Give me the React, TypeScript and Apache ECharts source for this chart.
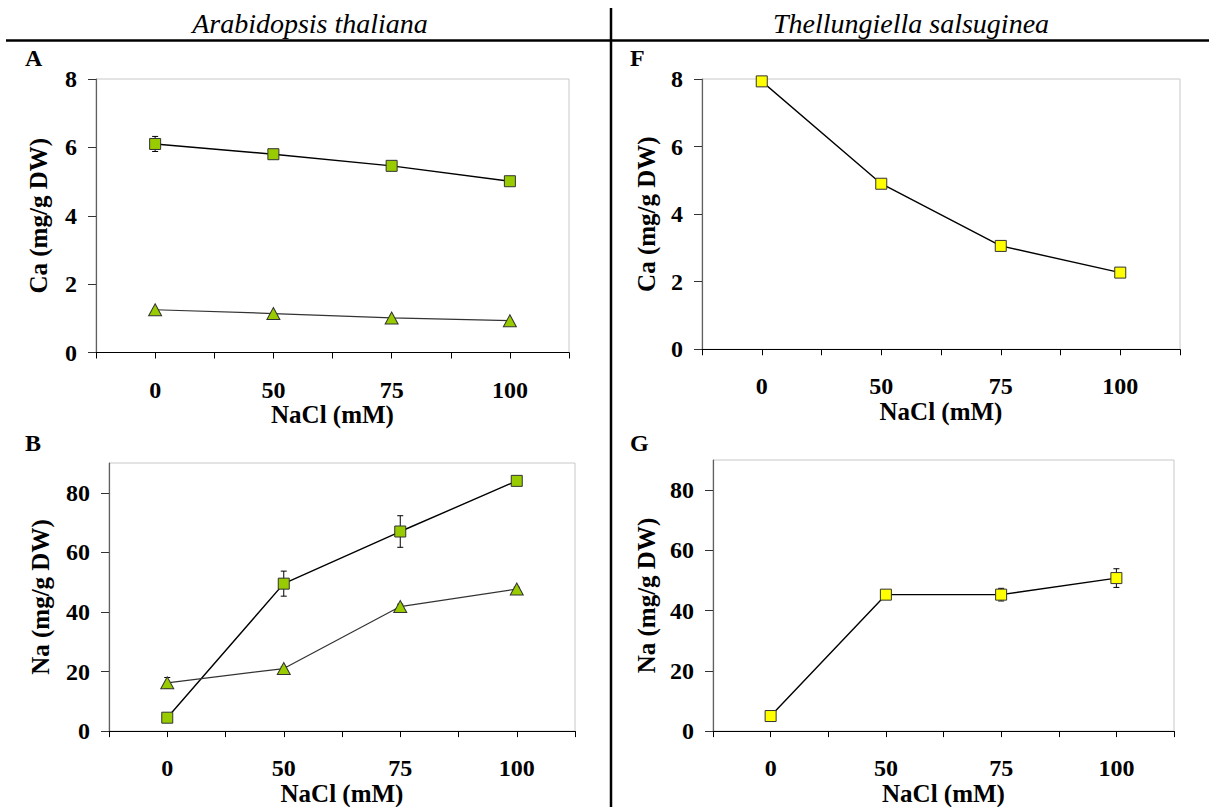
import React, { useEffect, useRef } from "react";
import * as echarts from "echarts";

// ---------- data ----------
const categories = ["0", "50", "75", "100"];
const yTicksCa = [0, 2, 4, 6, 8];
const yTicksNa = [0, 20, 40, 60, 80];

// Arabidopsis thaliana – Ca
const caArabSquare = [6.1, 5.8, 5.46, 5.01];
const caArabSquareErr = [0.22, 0.05, 0.05, 0.05];
const caArabTriangle = [1.25, 1.14, 1.01, 0.93];
// Arabidopsis thaliana – Na
const naArabSquare = [4.5, 49.5, 67, 84];
const naArabSquareErr = [0.6, 4.2, 5.3, 0.8];
const naArabTriangle = [16.2, 21, 41.8, 47.7];
const naArabTriangleErr = [1.8, 0.6, 0.8, 0.6];
// Thellungiella salsuginea – Ca
const caThel = [7.93, 4.9, 3.06, 2.27];
// Thellungiella salsuginea – Na
const naThel = [5, 45.3, 45.3, 50.8];
const naThelErr = [0.6, 0.8, 2.1, 3.1];

const FONT = "Liberation Serif";
const GREEN = "#99CC00";
const YELLOW = "#FFFF00";

function errData(vals: number[], errs: number[]) {
  return vals.map((v, i) => [i, v - errs[i], v + errs[i]]);
}

function errSeries(gridIdx: number, vals: number[], errs: number[]) {
  return {
    type: "custom",
    xAxisIndex: gridIdx * 2,
    yAxisIndex: gridIdx,
    z: 1,
    silent: true,
    encode: { x: 0, y: [1, 2] },
    data: errData(vals, errs),
    renderItem: (params: any, api: any) => {
      const x = api.value(0);
      const lo = api.coord([x, api.value(1)]);
      const hi = api.coord([x, api.value(2)]);
      const w = 3;
      const st = { stroke: "#000", lineWidth: 1 };
      return {
        type: "group",
        children: [
          { type: "line", shape: { x1: lo[0], y1: lo[1], x2: hi[0], y2: hi[1] }, style: st },
          { type: "line", shape: { x1: lo[0] - w, y1: lo[1], x2: lo[0] + w, y2: lo[1] }, style: st },
          { type: "line", shape: { x1: hi[0] - w, y1: hi[1], x2: hi[0] + w, y2: hi[1] }, style: st },
        ],
      };
    },
  };
}

function lineSeries(gridIdx: number, vals: number[], kind: "sq" | "tri", fill: string) {
  return {
    type: "line",
    xAxisIndex: gridIdx * 2,
    yAxisIndex: gridIdx,
    data: vals,
    z: 3,
    symbol: kind === "sq" ? "rect" : "triangle",
    symbolSize: kind === "sq" ? 11 : [13, 12],
    showAllSymbol: true,
    lineStyle: { color: kind === "sq" ? "#000" : "#333", width: kind === "sq" ? 1.4 : 1.2 },
    itemStyle: { color: fill, borderColor: "#333", borderWidth: 1 },
  };
}

export default function App() {
  const ref = useRef<HTMLDivElement>(null);

  useEffect(() => {
    if (!ref.current) return;
    const chart = echarts.init(ref.current, undefined, { renderer: "svg" });

    const grids = [
      { left: 96, top: 79, width: 473, height: 273.5 }, // A
      { left: 702, top: 79, width: 478, height: 270.3 }, // F
      { left: 109, top: 463, width: 466, height: 269 }, // B
      { left: 713, top: 460, width: 461, height: 277.7 }, // G
    ];

    const labelFont = { fontFamily: FONT, fontWeight: "bold", fontSize: 24, color: "#000" };
    const nameFont = { fontFamily: FONT, fontWeight: "bold", fontSize: 25, color: "#000" };

    const xAxes: any[] = [];
    grids.forEach((_, gi) => {
      xAxes.push({
        type: "category",
        gridIndex: gi,
        position: "bottom",
        data: categories,
        boundaryGap: true,
        name: "NaCl (mM)",
        nameLocation: "middle",
        nameGap: 41,
        nameTextStyle: nameFont,
        axisLine: { onZero: false, lineStyle: { color: "#000", width: 1.2 } },
        axisTick: { show: true, alignWithLabel: false, length: 6, lineStyle: { color: "#000", width: 1 } },
        axisLabel: { ...labelFont, margin: 25, interval: 0 },
        splitLine: { show: false },
      });
      xAxes.push({
        type: "category",
        gridIndex: gi,
        position: "bottom",
        data: categories,
        boundaryGap: true,
        axisLine: { show: false, onZero: false },
        axisTick: { show: true, alignWithLabel: true, interval: 0, length: 6, lineStyle: { color: "#000", width: 1 } },
        axisLabel: { show: false },
        splitLine: { show: false },
      });
    });

    const yNameGaps = [45, 43, 56, 54];
    const yAxes = grids.map((_, gi) => {
      const isCa = gi < 2;
      const ticks = isCa ? yTicksCa : yTicksNa;
      return {
        type: "value",
        gridIndex: gi,
        min: 0,
        max: isCa ? 8 : 90,
        interval: isCa ? 2 : 20,
        name: isCa ? "Ca (mg/g DW)" : "Na (mg/g DW)",
        nameLocation: "middle",
        nameGap: yNameGaps[gi],
        nameTextStyle: nameFont,
        axisLine: { show: true, lineStyle: { color: "#606060", width: 1.2 } },
        axisTick: { show: true, length: 8, customValues: ticks, lineStyle: { color: "#333", width: 1 } },
        axisLabel: { ...labelFont, margin: 19, customValues: ticks },
        splitLine: { show: false },
      };
    });

    const series: any[] = [
      errSeries(0, caArabSquare, caArabSquareErr),
      lineSeries(0, caArabSquare, "sq", GREEN),
      lineSeries(0, caArabTriangle, "tri", GREEN),
      lineSeries(1, caThel, "sq", YELLOW),
      errSeries(2, naArabSquare, naArabSquareErr),
      errSeries(2, naArabTriangle, naArabTriangleErr),
      lineSeries(2, naArabSquare, "sq", GREEN),
      lineSeries(2, naArabTriangle, "tri", GREEN),
      errSeries(3, naThel, naThelErr),
      lineSeries(3, naThel, "sq", YELLOW),
    ];

    const letter = (t: string, x: number, y: number) => ({
      type: "text",
      x,
      y,
      style: { text: t, fontFamily: FONT, fontWeight: "bold", fontSize: 24, fill: "#000", verticalAlign: "middle", align: "left" },
    });

    const option: any = {
      animation: false,
      backgroundColor: "#fff",
      grid: grids.map((g) => ({ ...g, show: true, borderColor: "#c8c8c8", borderWidth: 1, backgroundColor: "transparent" })),
      xAxis: xAxes,
      yAxis: yAxes,
      series,
      graphic: [
        {
          type: "text",
          x: 310,
          y: 23,
          style: { text: "Arabidopsis thaliana", fontFamily: FONT, fontStyle: "italic", fontSize: 28, fill: "#000", align: "center", verticalAlign: "middle" },
        },
        {
          type: "text",
          x: 911,
          y: 23,
          style: { text: "Thellungiella salsuginea", fontFamily: FONT, fontStyle: "italic", fontSize: 28, fill: "#000", align: "center", verticalAlign: "middle" },
        },
        { type: "line", shape: { x1: 6, y1: 40.5, x2: 1209, y2: 40.5 }, style: { stroke: "#000", lineWidth: 2.5 } },
        { type: "line", shape: { x1: 611, y1: 8, x2: 611, y2: 807 }, style: { stroke: "#000", lineWidth: 2.5 } },
        letter("A", 25, 58),
        letter("F", 630, 58),
        letter("B", 25, 443),
        letter("G", 630, 443),
      ],
    };

    chart.setOption(option);
    return () => chart.dispose();
  }, []);

  return (
    <div
      ref={ref}
      style={{ position: "fixed", left: 0, top: 0, width: 1209, height: 807, background: "#fff" }}
    />
  );
}
